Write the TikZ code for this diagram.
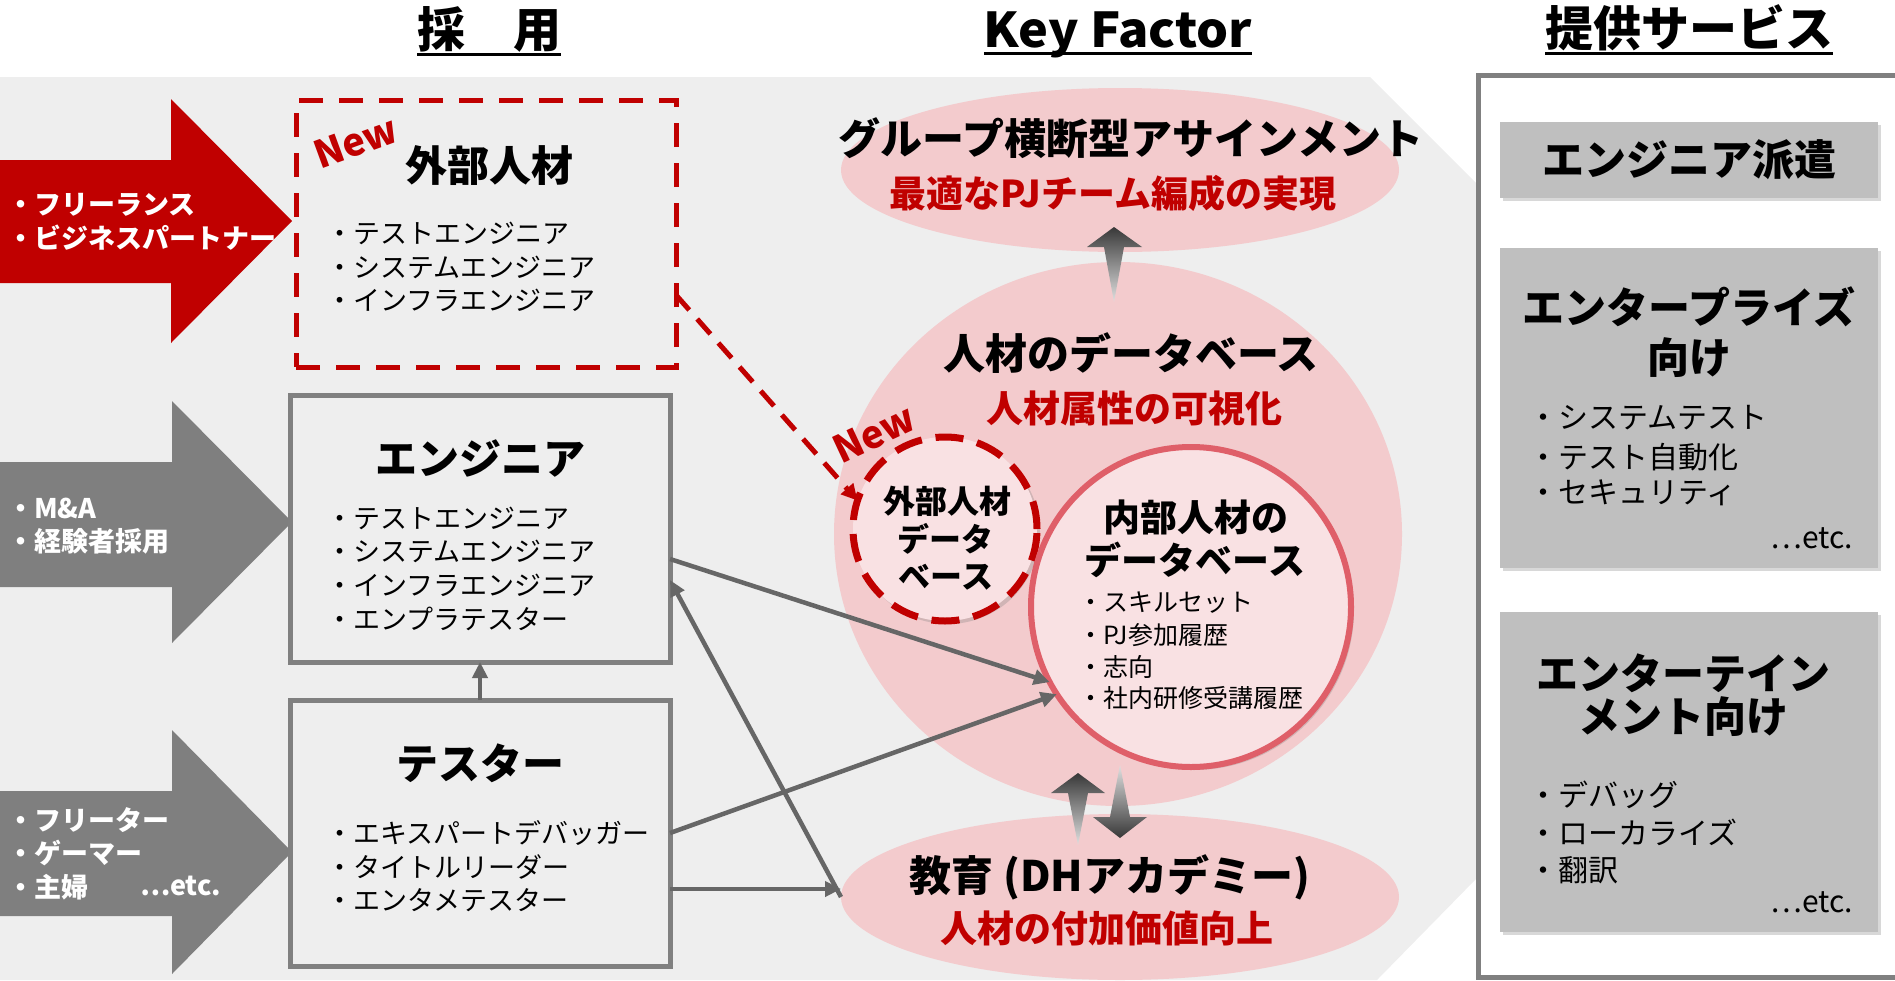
\documentclass[tikz,border=0pt]{standalone}
\usepackage{fontspec}
\usepackage{graphicx}
\setmainfont{Noto Sans CJK JP}
\usetikzlibrary{shapes.geometric,shadows,arrows.meta}
\newcommand\fsz[1]{\fontsize{#1pt}{#1pt}\selectfont}
\definecolor{band}{HTML}{EEEEEE}
\definecolor{pinkbg}{HTML}{F3CBCD}
\definecolor{pinklt}{HTML}{F9E1E3}
\definecolor{dhred}{HTML}{C00000}
\definecolor{rose}{HTML}{DF5F69}
\definecolor{arrgray}{HTML}{7F7F7F}
\definecolor{conngray}{HTML}{666666}
\definecolor{svcgray}{HTML}{BFBFBF}
\definecolor{boxborder}{HTML}{808080}
\begin{document}
\begin{tikzpicture}[x=1pt,y=-1pt,
  every node/.style={inner sep=0pt, outer sep=0pt},
  head/.style={font=\bfseries\fsz{48}, anchor=base},
  body/.style={font=\fsz{27}, anchor=west},
  ttl/.style={font=\bfseries\fsz{42}},
  wtxt/.style={text=white, font=\bfseries\fsz{27}, anchor=west},
  newlbl/.style={text=dhred, font=\bfseries\fsz{38}},
  pbox/.style={rectangle, draw=boxborder, line width=5pt, fill=band, minimum width=380pt},
  conn/.style={draw=conngray, line width=4.5pt, -{Triangle[length=16pt,width=15pt]}},
  shad/.style={drop shadow={opacity=0.3, shadow xshift=3pt, shadow yshift=-3pt}},
  pell/.style={ellipse, fill=pinkbg},
  kblack/.style={font=\bfseries\fsz{42}},
  kred/.style={text=dhred, font=\bfseries\fsz{37}},
  svc/.style={rectangle, fill=svcgray, minimum width=378pt, shad},
  stitle/.style={font=\bfseries\fsz{42}},
  sbody/.style={font=\fsz{30}, anchor=west},
  setc/.style={font=\fsz{30}, anchor=base east}
]
\useasboundingbox (0,0) rectangle (1895,980);
% background band
\fill[band] (0,77) -- (1370,77) -- (1476,183) -- (1476,879) -- (1377,980) -- (0,980) -- cycle;
% services frame
\node[rectangle, draw=boxborder, line width=5pt, fill=white, minimum width=432pt, minimum height=902pt, anchor=north west] (frame) at (1478.5,75.5) {};

% headings
\node[head] (h1) at (489,47) {採　用};
\node[head] (h2) at (1118,47) {\scalebox{1.05}[1]{Key Factor}};
\node[head] (h3) at (1689,46) {提供サービス};
\draw[line width=3pt] (h1.west |- 0,54) -- (h1.east |- 0,54);
\draw[line width=3pt] (h2.west |- 0,53) -- (h2.east |- 0,53);
\draw[line width=3pt] (h3.west |- 0,53) -- (h3.east |- 0,53);

% left arrows
\fill[dhred] (0,160) -- (171,160) -- (171,99) -- (292,221) -- (171,343) -- (171,283) -- (0,283) -- cycle;
\fill[arrgray] (0,462) -- (172,462) -- (172,401) -- (292,522) -- (172,643) -- (172,587) -- (0,587) -- cycle;
\fill[arrgray] (0,791) -- (172,791) -- (172,730) -- (292,852) -- (172,974) -- (172,916) -- (0,916) -- cycle;
\node[wtxt] (a1) at (7,205) {・フリーランス};
\node[wtxt] (a2) at (7,238) {・ビジネスパートナー};
\node[wtxt] (a3) at (7,508) {・M\&A};
\node[wtxt] (a4) at (7,541) {・経験者採用};
\node[wtxt] (a5) at (7,820) {・フリーター};
\node[wtxt] (a6) at (7,853) {・ゲーマー};
\node[wtxt] (a7) at (7,887) {・主婦};
\node[wtxt, anchor=base west] (a8) at (140,895) {…etc.};

% recruiting boxes
\node[pbox, draw=dhred, fill=none, dash pattern=on 24pt off 16pt, minimum height=267pt] (xbox) at (486,233.5) {};
\node[pbox, minimum height=267pt] (eng) at (480,528.5) {};
\node[pbox, minimum height=266pt] (tst) at (480,833) {};

\node[newlbl, rotate=20] (new1) at (356,142) {New};
\node[ttl] (xt) at (489,166) {外部人材};
\node[body] (x1) at (326,233) {・テストエンジニア};
\node[body] (x2) at (326,267) {・システムエンジニア};
\node[body] (x3) at (326,300) {・インフラエンジニア};

\node[ttl] (et) at (480,458) {エンジニア};
\node[body] (e1) at (326,518) {・テストエンジニア};
\node[body] (e2) at (326,551) {・システムエンジニア};
\node[body] (e3) at (326,585) {・インフラエンジニア};
\node[body] (e4) at (326,619) {・エンプラテスター};

\node[ttl] (tt) at (480,763) {テスター};
\node[body] (t1) at (326,833) {・エキスパートデバッガー};
\node[body] (t2) at (326,867) {・タイトルリーダー};
\node[body] (t3) at (326,900) {・エンタメテスター};

% key factor ellipses
\node[pell, minimum width=558pt, minimum height=164pt] (ktop) at (1120,170) {};
\node[pell, minimum width=568pt, minimum height=544pt] (kdb) at (1118,534) {};
\node[pell, minimum width=558pt, minimum height=166pt] (edu) at (1120,897) {};

\node[kblack] (kt1) at (1131,138) {グループ横断型アサインメント};
\node[text=dhred, font=\bfseries\fsz{37}] (kt2) at (1113,193) {最適なPJチーム編成の実現};
\node[kblack] (kd1) at (1131,353) {人材のデータベース};
\node[kred] (kd2) at (1134,408) {人材属性の可視化};
\node[kblack] (ed1) at (1110,877) {教育 (DHアカデミー)};
\node[kred] (ed2) at (1107,928) {人材の付加価値向上};

% gradient arrows
\shade[top color=black!78, bottom color=black!12] (1114,227) -- (1142,247) -- (1124,247) -- (1114,302) -- (1104,247) -- (1087,247) -- cycle;
\shade[top color=black!78, bottom color=black!12] (1078,773) -- (1105,793) -- (1088,793) -- (1078,845) -- (1068,793) -- (1051,793) -- cycle;
\shade[top color=black!12, bottom color=black!78] (1120,765) -- (1130,817) -- (1147,817) -- (1120,838) -- (1093,817) -- (1110,817) -- cycle;

% databases
\node[circle, draw=dhred, line width=7pt, dash pattern=on 28pt off 14pt, fill=pinklt, minimum size=184pt, shad] (xdb) at (945,529) {};
\node[circle, draw=rose, line width=6pt, fill=pinklt, minimum size=320pt, shad] (idb) at (1191,607) {};

\node[newlbl, rotate=25] (new2) at (874,434) {New};
\node[font=\bfseries\fsz{32}] (xd1) at (947,501) {外部人材};
\node[font=\bfseries\fsz{32}] (xd2) at (945,539) {データ};
\node[font=\bfseries\fsz{32}] (xd3) at (946,577) {ベース};

\node[font=\bfseries\fsz{37}] (id1) at (1196,517) {内部人材の};
\node[font=\bfseries\fsz{37}] (id2) at (1195,560) {データベース};
\node[font=\fsz{25}, anchor=west] (ib1) at (1078,603) {・スキルセット};
\node[font=\fsz{25}, anchor=west] (ib2) at (1078,635) {・PJ参加履歴};
\node[font=\fsz{25}, anchor=west] (ib3) at (1078,667) {・志向};
\node[font=\fsz{25}, anchor=west] (ib4) at (1078,698) {・社内研修受講履歴};

% connectors
\draw[conn] (tst.north) -- (eng.south);
\draw[conn] ([yshift=-30.5pt]eng.east) -- (idb.208);
\draw[conn] (tst.east) -- (idb.213);
\draw[conn] ([yshift=-56pt]tst.east) -- ([yshift=8pt]edu.west);
\draw[conn] (edu.west) -- ([yshift=-51.5pt]eng.east);
\draw[dhred, line width=5pt, dash pattern=on 20pt off 12pt, -{Triangle[length=16pt,width=16pt]}] ([yshift=72pt]xbox.south east) -- (xdb.162);

% services
\node[svc, minimum height=76pt] (s1) at (1689,160) {};
\node[stitle] (s1t) at (1689,160) {エンジニア派遣};

\node[svc, minimum height=320pt] (s2) at (1689,408) {};
\node[stitle] (s2t1) at (1689,307) {エンタープライズ};
\node[stitle] (s2t2) at (1689,358) {向け};
\node[sbody] (s2b1) at (1528,418) {・システムテスト};
\node[sbody] (s2b2) at (1528,457) {・テスト自動化};
\node[sbody] (s2b3) at (1528,493) {・セキュリティ};
\node[setc] (s2e) at (1853,548) {…etc.};

\node[svc, minimum height=320pt] (s3) at (1689,772) {};
\node[stitle] (s3t1) at (1683,673) {エンターテイン};
\node[stitle] (s3t2) at (1683,717) {メント向け};
\node[sbody] (s3b1) at (1528,795) {・デバッグ};
\node[sbody] (s3b2) at (1528,832) {・ローカライズ};
\node[sbody] (s3b3) at (1528,870) {・翻訳};
\node[setc] (s3e) at (1853,912) {…etc.};
\end{tikzpicture}
\end{document}
